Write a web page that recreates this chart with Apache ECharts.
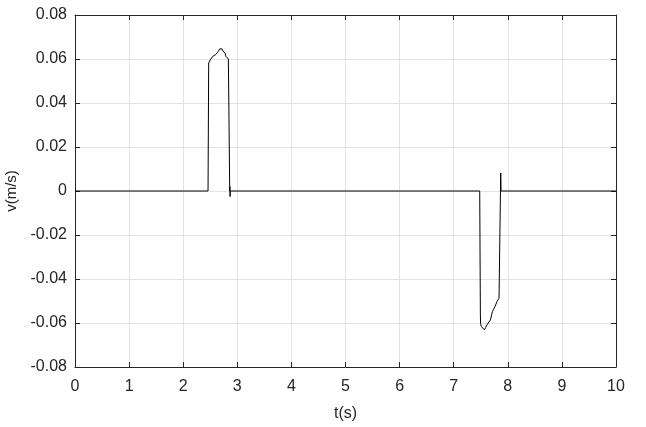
<!DOCTYPE html>
<html><head><meta charset="utf-8">
<script src="https://cdn.jsdelivr.net/npm/echarts@6/dist/echarts.min.js"></script>
<style>html,body{margin:0;padding:0;background:#fff}#c{width:646px;height:427px}</style>
</head><body><div id="c"></div>
<script>
const tValues = [0, 2.459, 2.471, 2.490, 2.502, 2.527, 2.551, 2.564, 2.582, 2.601, 2.625, 2.650, 2.675, 2.693, 2.718, 2.736, 2.755, 2.773, 2.786, 2.810, 2.835, 2.853, 2.860, 2.862, 2.866, 2.872,
  7.481, 7.493, 7.496, 7.511, 7.542, 7.567, 7.591, 7.616, 7.641, 7.678, 7.702, 7.715, 7.739, 7.764, 7.801, 7.838, 7.863, 7.869, 7.875, 10];
const vValues = [0, 0, 0.0582, 0.0590, 0.0597, 0.0605, 0.0613, 0.0616, 0.0610, 0.0620, 0.0625, 0.0635, 0.0646, 0.0650, 0.0646, 0.0635, 0.0640, 0.0628, 0.0613, 0.0605, 0.0600, 0.0594, 0, 0.002, -0.0025, 0,
  0, -0.0555, -0.0601, -0.0616, -0.0623, -0.0631, -0.0620, -0.0608, -0.0601, -0.0586, -0.0563, -0.0548, -0.0537, -0.0525, -0.0502, -0.0487, -0.0480, 0.0082, 0, 0];
const xTicks = [0,1,2,3,4,5,6,7,8,9,10];
const yTicks = [-0.08,-0.06,-0.04,-0.02,0,0.02,0.04,0.06,0.08];

const data = tValues.map((t,i)=>[t, vValues[i]]);
const font = "'Liberation Sans', Arial, sans-serif";
const axisCol = '#262626';
const chart = echarts.init(document.getElementById('c'), null, {renderer:'canvas'});
const fmtY = v => Math.abs(v) < 1e-9 ? '0' : v.toFixed(2);
chart.setOption({
  animation:false,
  grid:{left:75, right:30, top:15, bottom:60, containLabel:false, outerBoundsMode:'none'},
  xAxis:[{
    type:'value', min:xTicks[0], max:xTicks[xTicks.length-1], interval:1,
    name:'t(s)', nameLocation:'middle', nameGap:39,
    nameTextStyle:{fontFamily:font, fontSize:16, color:axisCol},
    axisLine:{show:true, onZero:false, lineStyle:{color:axisCol, width:1}},
    axisTick:{show:true, inside:true, length:5, lineStyle:{color:axisCol}},
    axisLabel:{fontFamily:font, fontSize:16, color:axisCol, margin:12},
    splitLine:{show:true, lineStyle:{color:'#e3e3e3', width:1}}
  },{
    type:'value', position:'top', min:0, max:10, interval:1,
    axisLine:{show:true, onZero:false, lineStyle:{color:axisCol, width:1}},
    axisTick:{show:true, inside:true, length:5, lineStyle:{color:axisCol}},
    axisLabel:{show:false}, splitLine:{show:false}
  }],
  yAxis:[{
    type:'value', min:yTicks[0], max:yTicks[yTicks.length-1], interval:0.02,
    name:'v(m/s)', nameLocation:'middle', nameGap:48, nameRotate:90,
    nameTextStyle:{fontFamily:font, fontSize:15, color:axisCol},
    axisLine:{show:true, onZero:false, lineStyle:{color:axisCol, width:1}},
    axisTick:{show:true, inside:true, length:5, lineStyle:{color:axisCol}},
    axisLabel:{fontFamily:font, fontSize:16, color:axisCol, margin:8, formatter:fmtY},
    splitLine:{show:true, lineStyle:{color:'#e3e3e3', width:1}}
  },{
    type:'value', position:'right', min:-0.08, max:0.08, interval:0.02,
    axisLine:{show:true, onZero:false, lineStyle:{color:axisCol, width:1}},
    axisTick:{show:true, inside:true, length:5, lineStyle:{color:axisCol}},
    axisLabel:{show:false}, splitLine:{show:false}
  }],
  series:[{
    type:'line', data:data, showSymbol:false, symbol:'none',
    lineStyle:{color:'#000', width:1}, xAxisIndex:0, yAxisIndex:0
  }]
});
</script></body></html>
